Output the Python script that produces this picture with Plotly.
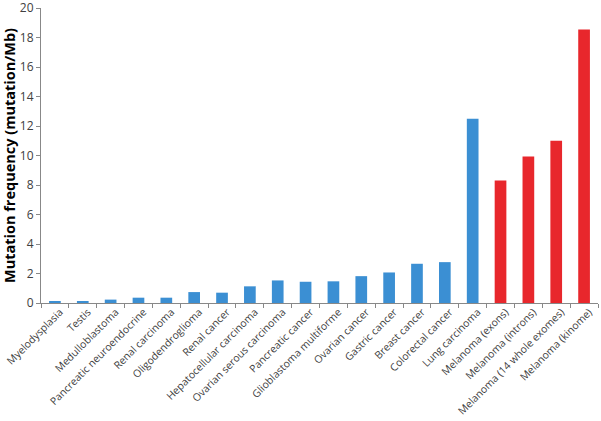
import plotly.graph_objects as go

categories = ["Myelodysplasia", "Testis", "Medulloblastoma", "Pancreatic neuroendocrine",
              "Renal carcinoma", "Oligodendroglioma", "Renal cancer", "Hepatocellular carcinoma",
              "Ovarian serous carcinoma", "Pancreatic cancer", "Glioblastoma multiforme",
              "Ovarian cancer", "Gastric cancer", "Breast cancer", "Colorectal cancer",
              "Lung carcinoma", "Melanoma (exons)", "Melanoma (introns)",
              "Melanoma (14 whole exomes)", "Melanoma (kinome)"]
values = [0.1, 0.08, 0.23, 0.36, 0.36, 0.74, 0.70, 1.13, 1.53, 1.44, 1.47, 1.82,
          2.07, 2.66, 2.77, 12.5, 8.3, 9.93, 11.0, 18.55]
colors = ["#3b8fd3"] * 16 + ["#e8272c"] * 4

fig = go.Figure(go.Bar(x=categories, y=values, marker=dict(color=colors, line=dict(width=0)),
                       width=0.42, cliponaxis=False))
fig.update_layout(
    width=601, height=421,
    margin=dict(l=41, r=3, t=8, b=118, autoexpand=False),
    plot_bgcolor="white", paper_bgcolor="white",
    font=dict(family="Open Sans", color="#404040", size=11),
    showlegend=False,
)
fig.update_xaxes(
    type="category", tickangle=-45, showline=True, linecolor="#888888", linewidth=1,
    ticks="outside", ticklen=4, tickcolor="#888888", tickson="boundaries",
    showgrid=False, tickfont=dict(size=10.4, color="#404040"), automargin=False,
    ticklabelshift=5, ticklabelstandoff=-2, ticklabeloverflow="allow",
)
fig.update_yaxes(
    range=[0, 20], dtick=2, showline=True, linecolor="#888888", linewidth=1,
    ticks="outside", ticklen=4, tickcolor="#888888", showgrid=False, zeroline=False,
    tickfont=dict(size=12, color="#404040"), automargin=False, ticklabeloverflow="allow",
    title=dict(text="<b>Mutation frequency (mutation/Mb)</b>", font=dict(size=14.5, color="#000000"),
               standoff=4),
)
fig.write_html("out.html", config={"displayModeBar": False},
               post_script="document.body.style.margin='0';")
